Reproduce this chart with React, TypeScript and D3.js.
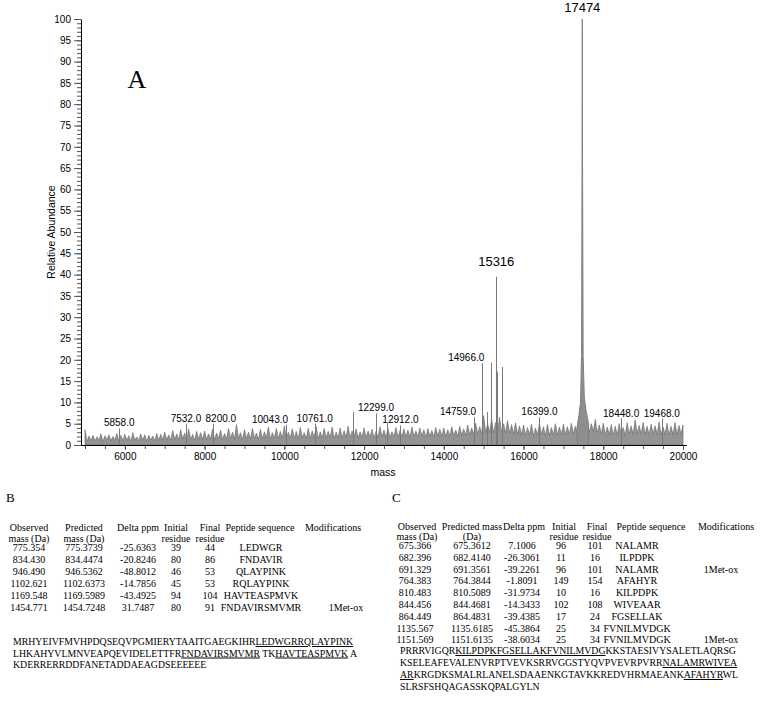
import React, { useEffect, useRef } from 'react';
import * as d3 from 'd3';

// baseline noise of the spectrum: spike tops every 100 Da from 5000 to 20000,
// and the dips read halfway between them (5050 ... 19950)
const noiseStart = 5000;
const noiseStep = 100;
const noiseTop = [
  3.6, 2.1, 2.3, 1.9, 2.6, 2.2, 2.4, 2.0, 2.7, 2.3,
  2.5, 2.2, 2.9, 1.9, 2.6, 2.4, 2.3, 2.1, 2.7, 2.5,
  3.0, 2.4, 3.4, 2.6, 3.6, 2.8, 3.8, 2.5, 3.2, 2.9,
  3.3, 2.6, 3.7, 2.8, 3.5, 2.7, 3.9, 3.0, 4.8, 2.9,
  3.6, 3.0, 3.9, 2.8, 3.7, 3.1, 4.2, 2.9, 3.9, 3.2,
  4.5, 3.0, 3.8, 3.2, 4.1, 2.9, 3.9, 3.3, 4.3, 3.1,
  3.9, 3.2, 4.2, 3.0, 4.0, 3.4, 4.4, 3.3, 3.8, 3.1,
  4.0, 3.3, 3.7, 3.2, 4.3, 3.5, 3.9, 3.1, 4.1, 3.4,
  3.8, 3.5, 4.2, 3.3, 4.0, 3.6, 3.9, 3.4, 4.1, 3.7,
  4.0, 3.6, 4.3, 3.5, 4.4, 3.8, 4.7, 4.0, 5.1, 4.3,
  6.9, 5.0, 6.2, 5.3, 6.5, 5.0, 5.7, 4.8, 5.2, 4.5,
  4.7, 4.1, 4.9, 4.0, 5.1, 4.3, 4.8, 4.1, 5.0, 4.2,
  4.9, 4.3, 5.1, 4.4, 5.3, 4.6, 5.6, 5.0, 6.0, 4.7,
  5.1, 4.2, 4.8, 4.4, 5.0, 4.1, 5.2, 4.5, 5.9, 4.6,
  5.3, 4.4, 4.9, 4.5, 5.4, 4.2, 5.1, 4.4, 5.3, 4.6,
  4.7,
];
const noiseDip = [
  0.8, 1.0, 0.9, 1.1, 0.8, 1.2, 1.0, 1.1, 0.9, 1.0,
  1.1, 0.9, 1.2, 1.0, 1.1, 0.9, 1.2, 1.0, 1.1, 1.2,
  1.2, 1.1, 1.3, 1.2, 1.4, 1.2, 1.3, 1.1, 1.4, 1.3,
  1.3, 1.4, 1.2, 1.5, 1.3, 1.4, 1.6, 1.4, 1.5, 1.3,
  1.5, 1.4, 1.6, 1.3, 1.5, 1.7, 1.4, 1.6, 1.5, 1.6,
  1.5, 1.7, 1.6, 1.4, 1.7, 1.5, 1.6, 1.8, 1.5, 1.7,
  1.6, 1.8, 1.5, 1.7, 1.6, 1.8, 1.7, 1.9, 1.6, 1.8,
  1.7, 1.9, 1.6, 1.8, 1.9, 1.7, 1.8, 2.0, 1.8, 1.9,
  1.9, 1.8, 2.0, 1.9, 2.1, 1.8, 2.0, 1.9, 2.1, 2.0,
  2.0, 2.1, 2.2, 2.0, 2.3, 2.2, 2.4, 2.5, 2.6, 2.7,
  2.9, 3.0, 2.8, 3.1, 2.9, 2.8, 2.7, 2.6, 2.5, 2.4,
  2.3, 2.4, 2.2, 2.3, 2.4, 2.2, 2.3, 2.4, 2.3, 2.5,
  2.4, 2.5, 2.6, 2.5, 2.7, 2.8, 3.0, 3.2, 2.9, 2.6,
  2.4, 2.5, 2.3, 2.4, 2.5, 2.3, 2.6, 2.5, 2.7, 2.6,
  2.5, 2.4, 2.6, 2.5, 2.4, 2.5, 2.3, 2.4, 2.5, 2.6,
];

// profile of the base peak around 17474 Da [mass, abundance]
const basePeak = [
  [17340, 4], [17390, 7], [17430, 10], [17455, 21], [17468, 67],
  [17474, 100], [17480, 67], [17495, 21], [17525, 11], [17570, 8], [17630, 5],
];

// labelled minor peaks [mass, abundance]
const minorPeaks = [
  [5858, 3.9], [7532, 5.0], [8200, 5.0], [10043, 4.8], [10761, 5.0], [12299, 7.4],
  [12912, 4.6], [14759, 6.5], [14966, 19.2], [16399, 6.5], [18448, 6.2], [19468, 6.2],
];
// labels written to the left / right of their peak
const leftLabelled = [10043, 14759, 14966];
const rightLabelled = [8200];

// unlabelled spikes [mass, abundance]
const spikes = [
  [11722, 7.7], [12575, 5.2], [15080, 7.7], [15184, 19.3], [15316, 39.5], [15335, 17.2], [15460, 18.3],
];

// peaks with large labels
const namedPeaks = [[17474, 100], [15316, 39.5]];

// table B
const bHead1 = ['Observed', 'Predicted', 'Delta ppm', 'Initial', 'Final', 'Peptide sequence', 'Modifications'];
const bHead2 = ['mass (Da)', 'mass (Da)', '', 'residue', 'residue', '', ''];
const bRows = [
  ['775.354', '775.3739', '-25.6363', '39', '44', 'LEDWGR', ''],
  ['834.430', '834.4474', '-20.8246', '80', '86', 'FNDAVIR', ''],
  ['946.490', '946.5362', '-48.8012', '46', '53', 'QLAYPINK', ''],
  ['1102.621', '1102.6373', '-14.7856', '45', '53', 'RQLAYPINK', ''],
  ['1169.548', '1169.5989', '-43.4925', '94', '104', 'HAVTEASPMVK', ''],
  ['1454.771', '1454.7248', '31.7487', '80', '91', 'FNDAVIRSMVMR', '1Met-ox'],
];
const bSequence = [
  [['MRHYEIVFMVHPDQSEQVPGMIERYTAAITGAEGKIHR', 0], ['LEDWGRRQLAYPINK', 1]],
  [['LHKAHYVLMNVEAPQEVIDELETTFR', 0], ['FNDAVIRSMVMR', 1], [' TK', 0], ['HAVTEASPMVK', 1], [' A', 0]],
  [['KDERRERRDDFANETADDAEAGDSEEEEEE', 0]],
];

// table C
const cHead1 = ['Observed', 'Predicted mass', 'Delta ppm', 'Initial', 'Final', 'Peptide sequence', 'Modifications'];
const cHead2 = ['mass (Da)', '(Da)', '', 'residue', 'residue', '', ''];
const cRows = [
  ['675.366', '675.3612', '7.1006', '96', '101', 'NALAMR', ''],
  ['682.396', '682.4140', '-26.3061', '11', '16', 'ILPDPK', ''],
  ['691.329', '691.3561', '-39.2261', '96', '101', 'NALAMR', '1Met-ox'],
  ['764.383', '764.3844', '-1.8091', '149', '154', 'AFAHYR', ''],
  ['810.483', '810.5089', '-31.9734', '10', '16', 'KILPDPK', ''],
  ['844.456', '844.4681', '-14.3433', '102', '108', 'WIVEAAR', ''],
  ['864.449', '864.4831', '-39.4385', '17', '24', 'FGSELLAK', ''],
  ['1135.567', '1135.6185', '-45.3864', '25', '34', 'FVNILMVDGK', ''],
  ['1151.569', '1151.6135', '-38.6034', '25', '34', 'FVNILMVDGK', '1Met-ox'],
];
const cSequence = [
  [['PRRRVIGQR', 0], ['KILPDPKFGSELLAKFVNILMVDG', 1], ['KKSTAESIVYSALETLAQRSG', 0]],
  [['KSELEAFEVALENVRPTVEVKSRRVGGSTYQVPVEVRPVRR', 0], ['NALAMRWIVEA', 1]],
  [['AR', 1], ['KRGDKSMALRLANELSDAAENKGTAVKKREDVHRMAEANK', 0], ['AFAHYR', 1], ['WL', 0]],
  [['SLRSFSHQAGASSKQPALGYLN', 0]],
];

const sans = '"Liberation Sans", Arial, sans-serif';
const serif = '"Liberation Serif", "Times New Roman", serif';

const App = () => {
  const svgRef = useRef<SVGSVGElement>(null);

  useEffect(() => {
    const svg = d3.select(svgRef.current);
    svg.selectAll('*').remove();

    const x = d3.scaleLinear().domain([5000, 20000]).range([85, 683]);
    const y = d3.scaleLinear().domain([0, 100]).range([445, 19]);
    const px = (m: number) => Math.round(x(m)) + 0.5;

    // spectrum
    const area = d3.area<number[]>()
      .x(d => x(d[0]))
      .y0(y(0))
      .y1(d => y(d[1]));

    const noisePts: number[][] = [];
    noiseTop.forEach((v, i) => {
      noisePts.push([noiseStart + i * noiseStep, v]);
      if (i < noiseDip.length) noisePts.push([noiseStart + i * noiseStep + noiseStep / 2, noiseDip[i]]);
    });
    svg.append('path').datum(noisePts).attr('d', area)
      .attr('fill', '#939393').attr('stroke', '#666').attr('stroke-width', 0.6);
    svg.append('path').datum(basePeak).attr('d', area)
      .attr('fill', '#8e8e8e').attr('stroke', '#808080').attr('stroke-width', 1);

    svg.selectAll('line.stick')
      .data([...minorPeaks, ...spikes])
      .join('line')
      .attr('class', 'stick')
      .attr('x1', d => px(d[0])).attr('x2', d => px(d[0]))
      .attr('y1', y(0)).attr('y2', d => y(d[1]))
      .attr('stroke', '#7a7a7a').attr('stroke-width', 1);

    // y axis
    const yg = svg.append('g').attr('transform', 'translate(81,0)');
    yg.call(d3.axisLeft(y).tickValues(d3.range(0, 101, 1)).tickSize(4).tickSizeOuter(0).tickFormat(() => ''));
    const yMajor = svg.append('g').attr('transform', 'translate(81,0)');
    yMajor.call(d3.axisLeft(y).tickValues(d3.range(0, 101, 5)).tickSize(7).tickPadding(3).tickSizeOuter(0));
    yMajor.select('.domain').remove();

    // x axis
    const xMinor = svg.append('g').attr('transform', 'translate(0,445)');
    xMinor.call(d3.axisBottom(x).tickValues(d3.range(5000, 20001, 500)).tickSize(4).tickSizeOuter(0).tickFormat(() => ''));
    xMinor.select('.domain').remove();
    const xMajor = svg.append('g').attr('transform', 'translate(0,445)');
    xMajor.call(d3.axisBottom(x).tickValues(d3.range(6000, 20001, 2000)).tickSize(5).tickPadding(3).tickSizeOuter(0).tickFormat(d3.format('d')));
    xMajor.select('.domain').remove();
    svg.append('line').attr('x1', 81).attr('x2', 687).attr('y1', 445.5).attr('y2', 445.5)
      .attr('stroke', '#000').attr('stroke-width', 1);

    svg.selectAll('.tick line').attr('stroke', '#555');
    svg.selectAll('.domain').attr('stroke', '#000');
    svg.selectAll('.tick text').attr('font-family', sans).attr('font-size', 10).attr('fill', '#000');

    svg.append('text').attr('transform', 'translate(55,232) rotate(-90)')
      .attr('text-anchor', 'middle').attr('font-family', sans).attr('font-size', 10.5)
      .text('Relative Abundance');
    svg.append('text').attr('x', 383).attr('y', 476).attr('text-anchor', 'middle')
      .attr('font-family', sans).attr('font-size', 10.5).text('mass');

    // peak labels
    const anchorOf = (m: number) => (leftLabelled.includes(m) ? 'end' : rightLabelled.includes(m) ? 'start' : 'middle');
    svg.selectAll('text.minor')
      .data(minorPeaks)
      .join('text')
      .attr('class', 'minor')
      .attr('x', d => (anchorOf(d[0]) === 'end' ? x(d[0]) + 2 : anchorOf(d[0]) === 'start' ? x(d[0]) - 7 : x(d[0])))
      .attr('y', d => y(d[1]) - 2)
      .attr('text-anchor', d => anchorOf(d[0]))
      .attr('font-family', sans).attr('font-size', 10)
      .text(d => d3.format('.1f')(d[0]));

    svg.selectAll('text.named')
      .data(namedPeaks)
      .join('text')
      .attr('class', 'named')
      .attr('x', d => x(d[0]))
      .attr('y', d => y(d[1]) - (d[1] > 90 ? 7 : 11))
      .attr('text-anchor', 'middle')
      .attr('font-family', sans).attr('font-size', 13)
      .text(d => String(d[0]));

    svg.append('text').attr('x', 137).attr('y', 88).attr('text-anchor', 'middle')
      .attr('font-family', serif).attr('font-size', 26).text('A');

    // tables
    const drawTable = (
      label: string, lx: number, cols: number[], valCols: number[],
      head1: string[], head2: string[], headY: number[], rows: string[][], rowY: number, rowStep: number,
    ) => {
      const g = svg.append('g').attr('font-family', serif).attr('font-size', 10).attr('fill', '#000');
      g.append('text').attr('x', lx).attr('y', 502).attr('font-size', 13).text(label);
      head1.forEach((t, i) => g.append('text').attr('x', cols[i]).attr('y', headY[0]).attr('text-anchor', 'middle').text(t));
      head2.forEach((t, i) => g.append('text').attr('x', cols[i]).attr('y', headY[1]).attr('text-anchor', 'middle').text(t));
      rows.forEach((r, j) => r.forEach((t, i) => g.append('text')
        .attr('x', valCols[i]).attr('y', rowY + j * rowStep).attr('text-anchor', 'middle').text(t)));
    };
    drawTable('B', 6, [29, 84, 138, 176, 210, 260, 333], [29, 84, 138, 176, 210, 261, 346],
      bHead1, bHead2, [531, 541.5], bRows, 551, 12);
    drawTable('C', 392, [417, 472, 524, 564, 597, 651, 726], [415, 472, 522, 561, 595, 637, 721],
      cHead1, cHead2, [530, 539.5], cRows, 549, 11.8);

    const drawSequence = (lines: (string | number)[][][], x0: number, y0: number, step: number) => {
      lines.forEach((segs, j) => {
        const t = svg.append('text').attr('x', x0).attr('y', y0 + j * step)
          .attr('font-family', serif).attr('font-size', 9.8).style('white-space', 'pre');
        segs.forEach(s => {
          t.append('tspan').text(String(s[0]))
            .attr('text-decoration', s[1] ? 'underline' : null);
        });
      });
    };
    drawSequence(bSequence, 13, 645, 11.5);
    drawSequence(cSequence, 400, 654, 12);
  }, []);

  return (
    <svg ref={svgRef} width={760} height={716}
      style={{ position: 'absolute', left: 0, top: 0, background: '#fff' }} />
  );
};

export default App;
